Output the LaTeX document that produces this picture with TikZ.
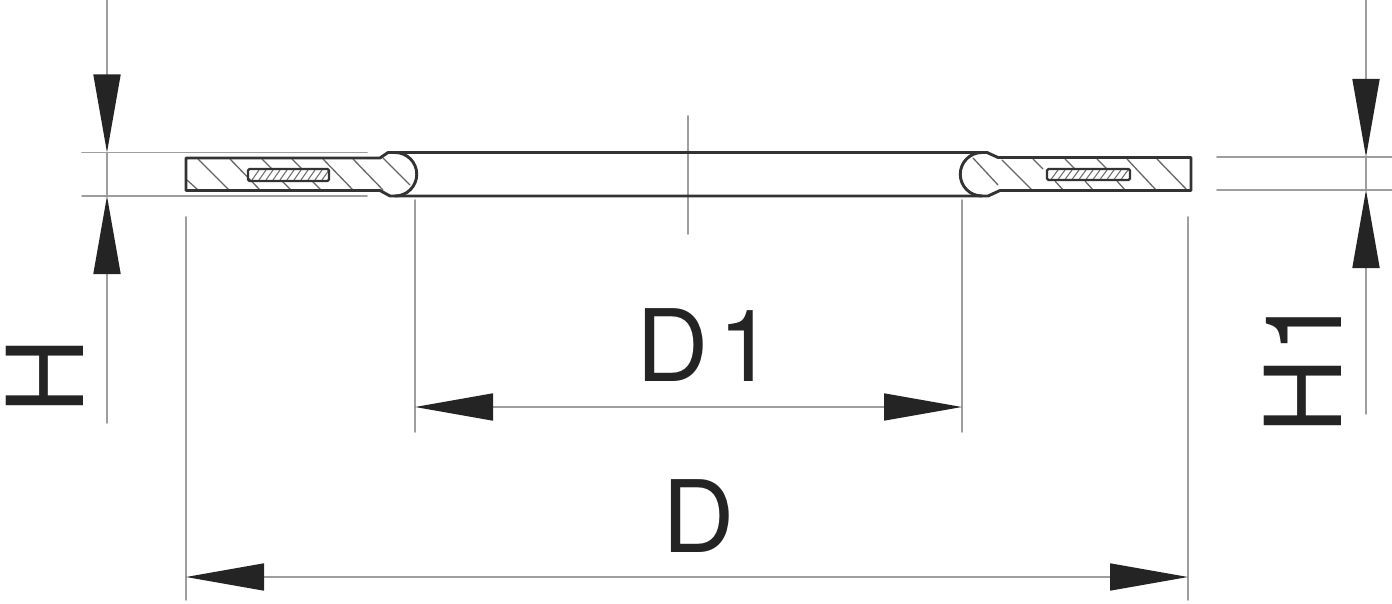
\documentclass[tikz,border=0pt]{standalone}
\usepackage{fontspec}
\setmainfont{TeX Gyre Heros}
\usetikzlibrary{arrows.meta}
\definecolor{cntr}{rgb}{0.2,0.2,0.2}
\definecolor{thingrey}{rgb}{0.62,0.62,0.62}
\definecolor{tipblack}{rgb}{0.14,0.14,0.14}
\tikzset{
	contour/.style={line width=2.9pt,color=cntr},
	thinline/.style={line width=1.7pt,color=thingrey},
	hatchline/.style={line width=1.3pt,color=cntr!75},
	finehatch/.style={line width=1.1pt,color=cntr!70},
	dimtip/.style={-{Triangle[length=78pt,width=27pt,color=tipblack]}},
	dimboth/.style={{Triangle[length=78pt,width=27pt,color=tipblack]}-{Triangle[length=78pt,width=27pt,color=tipblack]}},
	dimlabel/.style={inner sep=0pt,anchor=base,color=tipblack,font=\fontsize{100}{100}\selectfont},
	sidelabel/.style={dimlabel,rotate=90,font=\fontsize{106}{106}\selectfont}
}
\begin{document}
\begin{tikzpicture}[line cap=round,line join=round,x=1pt,y=-1pt]
	\useasboundingbox (0,0) rectangle (1392,604);
	% dimension end points
	\coordinate (htop) at (107,0);
	\coordinate (htipa) at (107,152.5);
	\coordinate (htipb) at (107,196);
	\coordinate (hend) at (107,423);
	\coordinate (honetop) at (1366,0);
	\coordinate (honetipa) at (1366,157);
	\coordinate (honetipb) at (1366,190);
	\coordinate (honeend) at (1366,414);
	\coordinate (doneleft) at (415,407);
	\coordinate (doneright) at (962,407);
	\coordinate (dleft) at (186,577);
	\coordinate (dright) at (1188,577);
	% extension lines
	\draw [thinline] (82,152.5)-- (367,152.5);
	\draw [thinline] (82,196)-- (367,196);
	\draw [thinline] (1217,157)-- (1392,157);
	\draw [thinline] (1217,190)-- (1392,190);
	\draw [thinline] (688,116)-- (688,234);
	\draw [thinline] (415,200)-- (415,432);
	\draw [thinline] (962,200)-- (962,432);
	\draw [thinline] (186,217)-- (186,600);
	\draw [thinline] (1188,217)-- (1188,600);
	% hatching left
	\draw [hatchline] (187,180)-- (198,190);
	\draw [hatchline] (198,159)-- (229,190);
	\draw [hatchline] (230,159)-- (260,190);
	\draw [hatchline] (262,159)-- (272,169);
	\draw [hatchline] (282,181)-- (291,190);
	\draw [hatchline] (292,159)-- (302,169);
	\draw [hatchline] (312,181)-- (321,190);
	\draw [hatchline] (323,159)-- (353,190);
	\draw [hatchline] (353,159)-- (383,190);
	\draw [hatchline] (383,158)-- (410,185);
	% hatching right
	\draw [hatchline] (973,158)-- (998,185);
	\draw [hatchline] (1002,160)-- (1032,190);
	\draw [hatchline] (1033,159)-- (1043,169);
	\draw [hatchline] (1055,181)-- (1063,190);
	\draw [hatchline] (1065,159)-- (1075,169);
	\draw [hatchline] (1085,181)-- (1093,190);
	\draw [hatchline] (1097,159)-- (1107,169);
	\draw [hatchline] (1117,181)-- (1125,190);
	\draw [hatchline] (1127,159)-- (1156,190);
	\draw [hatchline] (1157,159)-- (1187,190);
	% inserts
	\foreach \xx in {252,259,...,322}
		\draw [finehatch] (\xx,180)-- (\xx+7,170);
	\foreach \xx in {1051,1058,...,1121}
		\draw [finehatch] (\xx,179.5)-- (\xx+7,170);
	\draw [line width=2.4pt,color=cntr,rounded corners=1.5pt] (248,169) rectangle (329,181);
	\draw [line width=2.4pt,color=cntr,rounded corners=1.5pt] (1047,169) rectangle (1130,180);
	% gasket outline
	\draw [contour] (380,158)-- (388,152.5)-- (987,152.5)-- (998,157.5)-- (1191,157.5)-- (1191,190.5)-- (1000,190.5)-- (988,196)-- (390,196)-- (380,190.5)-- (186,190.5)-- (186,158)-- cycle;
	\draw [contour] (395,152.5) arc[start angle=90,end angle=-90,radius=21.75pt];
	\draw [contour] (982,152.5) arc[start angle=90,end angle=270,radius=21.75pt];
	% dimension lines
	\draw [thinline,dimtip] (htop)-- (htipa);
	\draw [thinline] (htipa)-- (htipb);
	\draw [thinline,dimtip] (hend)-- (htipb);
	\draw [thinline,dimtip] (honetop)-- (honetipa);
	\draw [thinline] (honetipa)-- (honetipb);
	\draw [thinline,dimtip] (honeend)-- (honetipb);
	\draw [thinline,dimboth] (doneleft)-- (doneright);
	\draw [thinline,dimboth] (dleft)-- (dright);
	% labels
	\node [dimlabel] (labdone) at (705,381) {D\kern10pt 1};
	\node [dimlabel] (labd) at (699,552) {D};
	\node [sidelabel] (labh) at (83,376) {H};
	\node [sidelabel] (labhone) at (1341,365) {H\kern4pt 1};
\end{tikzpicture}
\end{document}
